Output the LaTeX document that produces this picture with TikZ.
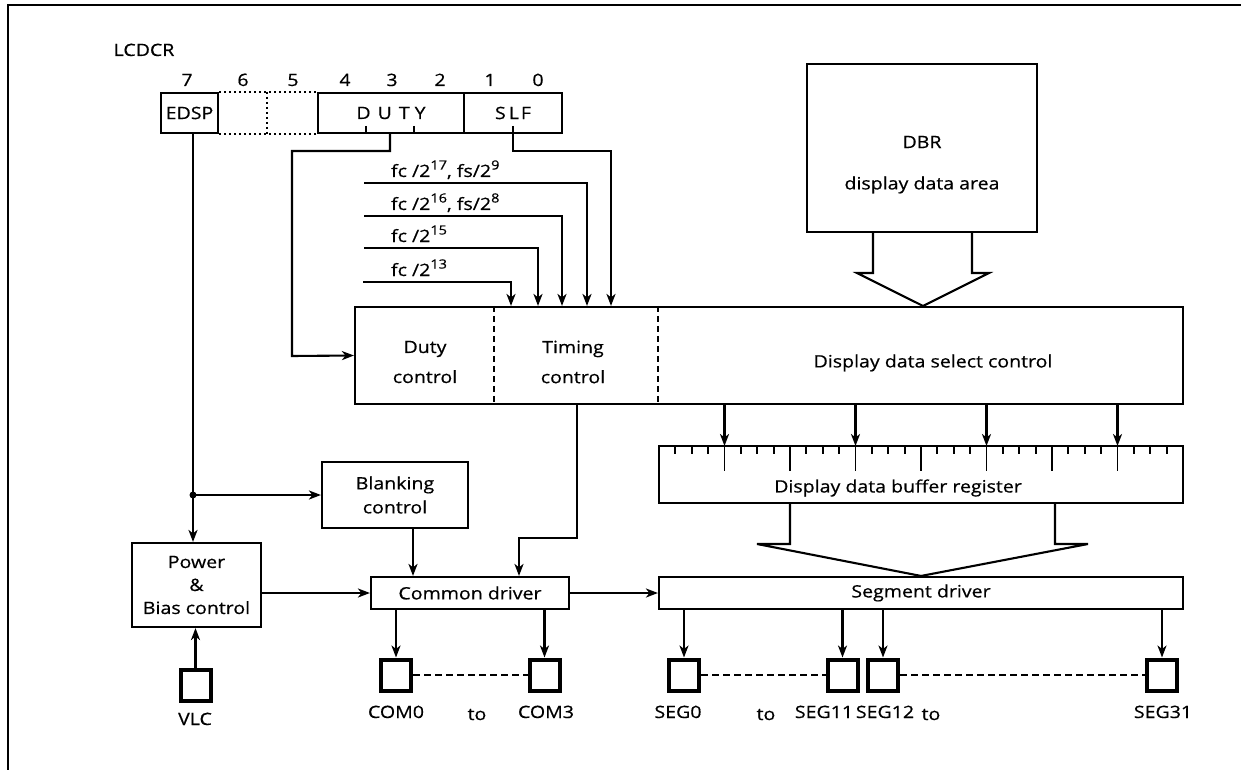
\documentclass[tikz,border=0pt]{standalone}
\usepackage{fontspec}
\setmainfont{Open Sans}[FakeStretch=1.15,FakeBold=0.6]
\usetikzlibrary{arrows.meta}
\newcommand{\sups}[1]{\raisebox{7.5pt}{\fontsize{12.6}{13}\selectfont #1}}
\begin{document}
\begin{tikzpicture}[x=1pt,y=-1pt,line width=2.1pt,
  txt/.style={font=\fontsize{17}{24}\selectfont,inner sep=0pt},
  box/.style={draw,rectangle,inner sep=0pt,align=center,txt},
  pad/.style={draw,line width=4pt,minimum width=30pt,minimum height=31pt,inner sep=0pt},
  arr/.style={-{Stealth[length=12pt,width=9pt,inset=3.5pt]}},
  dashline/.style={line width=1.8pt,dash pattern=on 7pt off 4pt},
  dotline/.style={line width=1.8pt,dash pattern=on 1.8pt off 3.2pt},
  tick/.style={line width=1.8pt}]
\useasboundingbox (0,0) rectangle (1247,770);
% frame
\draw (8,770) -- (8,5) -- (1241,5);

% register
\node[txt,anchor=base] (lcdcr) at (144,56) {LCDCR};
\foreach \b/\x in {7/187,6/243,5/293,4/345,3/392,2/440,1/490,0/538}
  \node[txt,anchor=base] (bit\b) at (\x,86) {\b};
\node[box,minimum width=57,minimum height=40] (edsp) at (189.5,113) {EDSP};
\node[box,minimum width=146,minimum height=40] (dutyr) at (391,113) {D\hspace{7pt}U\hspace{7pt}T\hspace{5pt}Y};
\node[box,minimum width=98,minimum height=40] (slfr) at (513,113) {S\hspace{3pt}L\hspace{2pt}F};
\draw[dotline] (edsp.north east) -- (dutyr.north west);
\draw[dotline] (edsp.south east) -- (dutyr.south west);
\draw[dotline] (267,0 |- edsp.north) -- (267,0 |- edsp.south);
\draw[tick] (366,126) -- (366,0 |- dutyr.south);
\draw[tick] (414,126) -- (414,0 |- dutyr.south);

% DBR
\node[box,minimum width=230,minimum height=168] (dbr) at (922,148) {};
\node[txt] (dbrt) at (922,142) {DBR};
\node[txt] (dbra) at (922,185) {display data area};

% main control box
\node[box,minimum width=828,minimum height=97] (ctrl) at (769,355.5) {};
\draw[dashline,dash pattern=on 6pt off 4pt] (494,0 |- ctrl.north) -- (494,0 |- ctrl.south);
\draw[dashline,dash pattern=on 6pt off 4pt] (658,0 |- ctrl.north) -- (658,0 |- ctrl.south);
\node[txt,align=center,font=\fontsize{17}{30}\selectfont] (dutyc) at (425,362) {Duty\\control};
\node[txt,align=center,font=\fontsize{17}{30}\selectfont] (timc) at (573,362) {Timing\\control};
\node[txt] (selc) at (933,363) {Display data select control};

% wide arrow DBR -> ctrl
\draw[line join=miter] (873,0 |- dbr.south) -- (873,273) -- (857,273) -- (923,0 |- ctrl.north) -- (989,273) -- (972,273) -- (972,0 |- dbr.south);

% clock inputs
\node[txt,anchor=base west] (f1) at (390,177) {fc /2\sups{17}, fs/2\sups{9}};
\node[txt,anchor=base west] (f2) at (390,210) {fc /2\sups{16}, fs/2\sups{8}};
\node[txt,anchor=base west] (f3) at (390,242) {fc /2\sups{15}};
\node[txt,anchor=base west] (f4) at (390,276) {fc /2\sups{13}};
\coordinate (s1) at (364,183);
\coordinate (s2) at (364,216);
\coordinate (s3) at (364,248);
\coordinate (s4) at (363,282);
\draw[arr] (s1) -| (587,0 |- ctrl.north);
\draw[arr] (s2) -| (562,0 |- ctrl.north);
\draw[arr] (s3) -| (538,0 |- ctrl.north);
\draw[arr] (s4) -| (511,0 |- ctrl.north);
% SLF line
\draw[arr] (513,126) -- (513,151) -| (611,0 |- ctrl.north);
% DUTY line
\draw[arr] (390,0 |- dutyr.south) -- (390,151) -| (292,356) -- (ctrl.west);

% buffer register
\node[box,minimum width=524,minimum height=57] (buf) at (921,474.5) {};
\node[txt] (buft) at (898,488) {Display data buffer register};
\foreach \k in {1,...,31}{
  \pgfmathtruncatemacro\m{mod(\k,4)}
  \ifnum\m=0
    \draw[tick] ({659+\k*16.375},446) -- ++(0,25);
  \else
    \draw[tick] ({659+\k*16.375},446) -- ++(0,8);
  \fi}
\foreach \k in {4,12,20,28}
  \draw[arr] ({659+\k*16.375},404) -- ({659+\k*16.375},446);

% segment driver
\node[box,minimum width=524,minimum height=32] (segdrv) at (921,593) {Segment driver};
\draw[line join=miter] (790,0 |- buf.south) -- (790,544) -- (757,544) -- (921,0 |- segdrv.north) -- (1088,544) -- (1055,544) -- (1055,0 |- buf.south);

% common driver
\node[box,minimum width=198,minimum height=32] (comdrv) at (470,593) {Common driver};
\draw[arr] (comdrv.east) -- (segdrv.west);

% blanking, power
\node[box,minimum width=146,minimum height=66] (blank) at (395,495) {Blanking\\control};
\node[box,minimum width=129,minimum height=84,font=\fontsize{17}{23}\selectfont] (power) at (196.5,585) {Power\\\&\\Bias control};
\coordinate (dot) at (193,495);
\draw (193,0 |- edsp.south) -- (dot);
\fill (dot) circle (3.5pt);
\draw[arr] (dot) -- (blank.west);
\draw[arr] (dot) -- (dot |- power.north);
\draw[arr] (power.east |- comdrv.west) -- (comdrv.west);
\draw[arr] (413,0 |- blank.south) -- (413,0 |- comdrv.north);
\draw[arr] (577,0 |- ctrl.south) -- (577,538) -- (519,538) -- (519,0 |- comdrv.north);

% VLC
\node[pad] (vlc) at (195.5,685.5) {};
\draw[arr] (vlc.north) -- (vlc.north |- power.south);
\node[txt,anchor=base] (vlct) at (195,725) {VLC};

% COM pads
\node[pad] (com0) at (396,675) {};
\node[pad] (com3) at (544.5,675) {};
\draw[dashline] (com0.east) -- (com3.west);
\draw[arr] (com0.north |- comdrv.south) -- (com0.north);
\draw[arr] (com3.north |- comdrv.south) -- (com3.north);
\node[txt,anchor=base] (com0t) at (396,718) {COM0};
\node[txt,anchor=base] (to1) at (477,720) {to};
\node[txt,anchor=base] (com3t) at (546,718) {COM3};

% SEG pads
\node[pad] (seg0) at (684,675) {};
\node[pad] (seg11) at (842.5,675) {};
\node[pad] (seg12) at (883,675) {};
\node[pad] (seg31) at (1162,675) {};
\draw[dashline] (seg0.east) -- (seg11.west);
\draw[dashline] (seg12.east) -- (seg31.west);
\foreach \p in {seg0,seg11,seg12,seg31}
  \draw[arr] (\p.north |- segdrv.south) -- (\p.north);
\node[txt,anchor=base] (seg0t) at (678,718) {SEG0};
\node[txt,anchor=base] (to2) at (766,720) {to};
\node[txt,anchor=base] (seg11t) at (824,718) {SEG11};
\node[txt,anchor=base] (seg12t) at (885,718) {SEG12};
\node[txt,anchor=base] (to3) at (931,720) {to};
\node[txt,anchor=base] (seg31t) at (1163,718) {SEG31};
\end{tikzpicture}
\end{document}
